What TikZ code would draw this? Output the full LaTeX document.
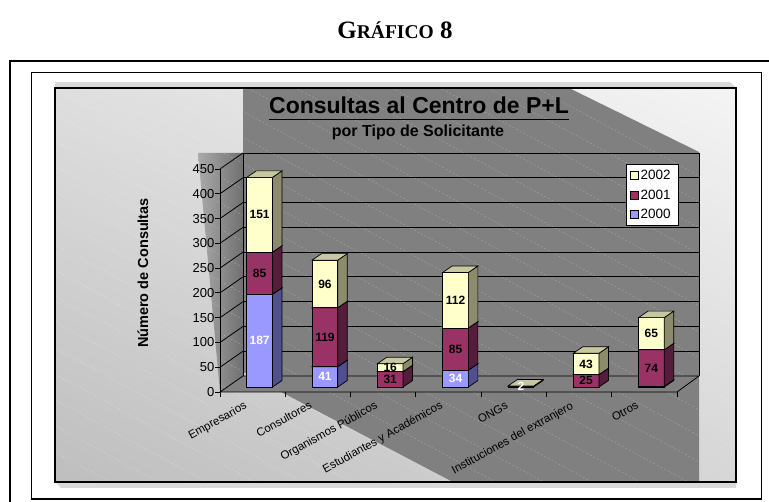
\documentclass[tikz,border=0pt]{standalone}
\usepackage{fontspec}
\usetikzlibrary{calc,shadings}
\newfontfamily\arialf{Liberation Sans}
\newfontfamily\hdrf{Liberation Serif}
\definecolor{cA}{HTML}{9999FF}\definecolor{cAs}{HTML}{50508F}\definecolor{cAt}{HTML}{7777CC}
\definecolor{cB}{HTML}{993366}\definecolor{cBs}{HTML}{561C3C}\definecolor{cBt}{HTML}{7A2952}
\definecolor{cC}{HTML}{FFFFCC}\definecolor{cCs}{HTML}{8C8C6C}\definecolor{cCt}{HTML}{C8C8A0}
\definecolor{wallgray}{HTML}{808080}
\definecolor{bevel}{HTML}{D9D9D9}
\definecolor{bgUL}{HTML}{DEDEDE}\definecolor{bgLL}{HTML}{BEBEBE}
\definecolor{bgUR}{HTML}{F4F4F4}\definecolor{bgLR}{HTML}{D6D6D6}
\definecolor{sideL}{HTML}{AAAAAA}\definecolor{sideR}{HTML}{707070}
\newcommand\barseg[6]{%
  \filldraw[fill=#4,draw=black,line width=0.7pt] (#1-12.85,#2) rectangle (#1+12.85,#3);
  \filldraw[fill=#5,draw=black,line width=0.7pt] (#1+12.85,#2) -- (#1+22.35,#2-6.5) -- (#1+22.35,#3-6.5) -- (#1+12.85,#3) -- cycle;
  \filldraw[fill=#6,draw=black,line width=0.7pt] (#1-12.85,#3) -- (#1-3.35,#3-6.5) -- (#1+22.35,#3-6.5) -- (#1+12.85,#3) -- cycle;
}
\tikzset{
  vlabel/.style={font=\arialf\bfseries\fontsize{12}{13}\selectfont,inner sep=0pt},
  catlabel/.style={font=\arialf\fontsize{11.5}{12}\selectfont,inner sep=0pt,rotate=29,anchor=base east},
  ticklabel/.style={font=\arialf\fontsize{13}{14}\selectfont,inner sep=0pt,anchor=east},
  legtext/.style={font=\arialf\fontsize{13.5}{14}\selectfont,inner sep=0pt,anchor=west},
  legbox/.style={draw=black,line width=0.6pt,minimum size=8pt,inner sep=0pt},
  gridl/.style={black,line width=0.8pt}
}
\begin{document}
\begin{tikzpicture}[x=1pt,y=-1pt]
\useasboundingbox (0,0) rectangle (769,502);
\fill[white] (0,0) rectangle (769,502);
% header
\node[anchor=base,inner sep=0pt] (hdr) at (395,38.5) {\hdrf\bfseries\fontsize{25}{27}\selectfont G\fontsize{19.5}{21}\selectfont RÁFICO\fontsize{25}{27}\selectfont\ 8};
% frames
\draw[line width=1.5pt] (10,61) rectangle (780,520);
\draw[line width=1.2pt] (31.7,72.7) rectangle (761.3,499);
% bevel
\fill[bevel] (55,82) -- (730,82) -- (736,88) -- (55,88) -- cycle;
\fill[bevel] (55,482) -- (61,488) -- (736,488) -- (736,482) -- cycle;
% chart background
\begin{scope}
\clip (55,88) rectangle (736,482);
\shade[upper left=bgUL,lower left=bgLL,upper right=bgUR,lower right=bgLR]
  (55,88) rectangle (736,482);
\fill[wallgray] (243,88) -- (569,88) -- (699,152) -- (699,482) -- (453,482) -- (243,372) -- cycle;
\shade[left color=sideL,right color=sideR]
  (198,153) -- (243,153) -- (243,376) -- (220,392) -- cycle;
\foreach \k in {-30,...,20}
  \draw[white,opacity=0.3,dash pattern=on 2pt off 2pt,line width=0.4pt] (55,88+\k*26) -- ++(700,378);
\end{scope}
\draw[black,line width=1.2pt] (55,88) rectangle (736,482);
% floor
\filldraw[fill=wallgray,draw=black,line width=0.8pt] (220,392) -- (243,376) -- (699,376) -- (677,392) -- cycle;
% back wall gridlines
\foreach \v in {50,100,...,450}{
  \draw[gridl] (243,376-\v*0.4956) -- (699,376-\v*0.4956);
  \draw[gridl] (220,392-\v*0.4956) -- (243,376-\v*0.4956);
}
\draw[black,line width=1pt] (243,153) -- (243,376);
\draw[black,line width=1pt] (699,153) -- (699,376);
% y axis
\draw[black,line width=0.8pt] (220,169) -- (220,392);
\foreach \v in {0,50,...,450}{
  \draw[black,line width=0.8pt] (215,392-\v*0.4956) -- (220,392-\v*0.4956);
  \node[ticklabel] at (214.5,392-\v*0.4956) {\v};
}
% category ticks
\foreach \k in {0,...,7}
  \draw[black,line width=0.8pt] (220+\k*65.29,392) -- (220+\k*65.29,397);
% bars
\foreach \i/\va/\vb/\vc in {0/187/85/151,1/41/119/96,2/0/31/16,3/34/85/112,4/0/0/2,5/0/25/43,6/1/74/65}{
  \pgfmathsetmacro\cx{220+65.29*(\i+0.5)+7}
  \pgfmathsetmacro\ya{387-\va*0.4956}
  \pgfmathsetmacro\yb{\ya-\vb*0.4956}
  \pgfmathsetmacro\yc{\yb-\vc*0.4956}
  \ifnum\va>0 \barseg{\cx}{387}{\ya}{cA}{cAs}{cAt}\fi
  \ifnum\vb>0 \barseg{\cx}{\ya}{\yb}{cB}{cBs}{cBt}\fi
  \ifnum\vc>0 \barseg{\cx}{\yb}{\yc}{cC}{cCs}{cCt}\fi
  \ifnum\va>1 \node[vlabel,text=white] at (\cx,{(387+\ya)/2}) {\va};\fi
  \ifnum\vb>1 \node[vlabel,text=black] at (\cx,{(\ya+\yb)/2}) {\vb};\fi
  \ifnum\vc>2 \node[vlabel,text=black] at (\cx,{(\yb+\yc)/2}) {\vc};\fi
}
\node[vlabel,text=white] at (520.9,386.5) {2};
% category labels
\foreach \i/\t in {0/Empresarios,1/Consultores,2/Organismos Públicos,3/Estudiantes y Académicos,4/ONGs,5/Instituciones del extranjero,6/Otros}
  \node[catlabel] at (220+65.29*\i+32.65-5,408) {\t};
% y axis title
\node[font=\arialf\bfseries\fontsize{14.5}{15}\selectfont,rotate=90] (ytitle) at (143,273) {Número de Consultas};
% titles
\node[font=\arialf\bfseries\fontsize{23}{25}\selectfont,anchor=base,inner sep=0pt] (title) at (419,114) {Consultas al Centro de P+L};
\draw[black,line width=1.6pt] ($(title.base west)+(0,5.5)$) -- ($(title.base east)+(0,5.5)$);
\node[font=\arialf\bfseries\fontsize{16}{17}\selectfont,anchor=base,inner sep=0pt] (subtitle) at (418,136.7) {por Tipo de Solicitante};
% legend
\node[draw=black,fill=white,line width=0.6pt,minimum width=52pt,minimum height=60.7pt,inner sep=0pt,anchor=north west] (leg) at (625.7,164.3) {};
\node[legbox,fill=cC] (l1) at (634.2,175) {};
\node[legbox,fill=cB] (l2) at (634.2,195) {};
\node[legbox,fill=cA] (l3) at (634.2,214.3) {};
\node[legtext] at (640.5,175) {2002};
\node[legtext] at (640.5,195) {2001};
\node[legtext] at (640.5,214.3) {2000};
\end{tikzpicture}
\end{document}
